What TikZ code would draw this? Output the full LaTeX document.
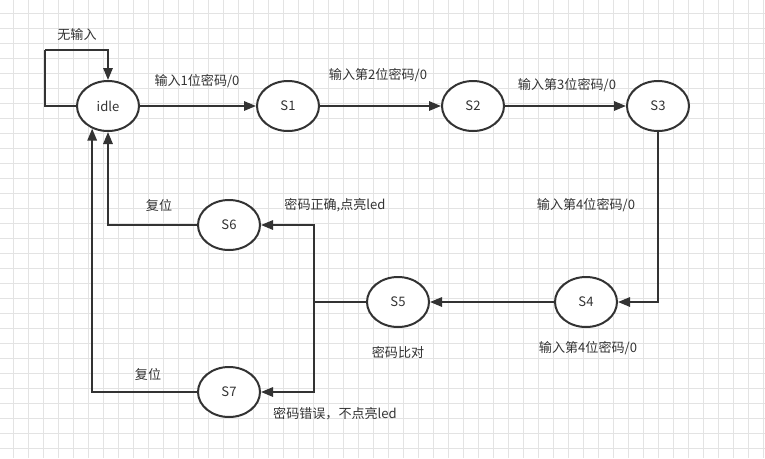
\documentclass[tikz,border=0pt]{standalone}
\usepackage{fontspec}
\setmainfont{Noto Sans CJK SC}
\usetikzlibrary{shapes.geometric, arrows.meta}
\definecolor{gridgray}{HTML}{E3E3E3}
\definecolor{linegray}{HTML}{333333}
\tikzstyle{every node}=[font=\fontsize{9.8pt}{12pt}\selectfont, text=linegray]
\tikzstyle{state}=[draw=linegray,line width=1.5pt,ellipse,minimum width=46.5pt,minimum height=37.5pt,inner sep=0pt,fill=white]
\tikzstyle{wire}=[draw=linegray,line width=1.5pt]
\tikzstyle{trans}=[wire,->]

\begin{document}
\begin{tikzpicture}[x=0.75pt,y=-0.75pt,>={Triangle[length=9pt,width=7pt]}]
    \fill[white] (0,0) rectangle (765,458);
    \useasboundingbox (0,0) rectangle (765,458);
    \foreach \g in {0,...,50}
        \draw[gridgray,line width=0.75pt] (13.3+15*\g,0) -- (13.3+15*\g,458);
    \foreach \g in {0,...,29}
        \draw[gridgray,line width=0.75pt] (0,13.3+15*\g) -- (765,13.3+15*\g);
    \node[state] (idle) at (108,106) {idle};
    \node[state] (S1) at (288,106) {S1};
    \node[state] (S2) at (473,106) {S2};
    \node[state] (S3) at (658,106) {S3};
    \node[state] (S4) at (586,302) {S4};
    \node[state] (S5) at (398,302) {S5};
    \node[state] (S6) at (229,225) {S6};
    \node[state] (S7) at (229,392) {S7};
    \coordinate (loop) at (45,50);
    \coordinate (split) at (314,302);
    \node (l0) at (77,35) {无输入};
    \node (l1) at (197,81) {输入1位密码/0};
    \node (l2) at (378,75) {输入第2位密码/0};
    \node (l3) at (567,85) {输入第3位密码/0};
    \node (l4) at (586,205) {输入第4位密码/0};
    \node (l5) at (588,348) {输入第4位密码/0};
    \node (l6) at (398,352) {密码比对};
    \node (l7) at (335,205) {密码正确,点亮led};
    \node (l8) at (335,414) {密码错误，不点亮led};
    \node (l9) at (159,205) {复位};
    \node (l10) at (148,374) {复位};
    \draw[wire] (idle.west) -| (loop);
    \draw[trans] (loop) -| (idle.north);
    \draw[trans] (idle) -- (S1);
    \draw[trans] (S1) -- (S2);
    \draw[trans] (S2) -- (S3);
    \draw[trans] (S3) |- (S4);
    \draw[trans] (S4) -- (S5);
    \draw[wire] (S5) -- (split);
    \draw[trans] (split) |- (S6);
    \draw[trans] (split) |- (S7);
    \draw[trans] (S6) -| (idle);
    \draw[trans] (S7) -| (idle.-125);
\end{tikzpicture}
\end{document}
